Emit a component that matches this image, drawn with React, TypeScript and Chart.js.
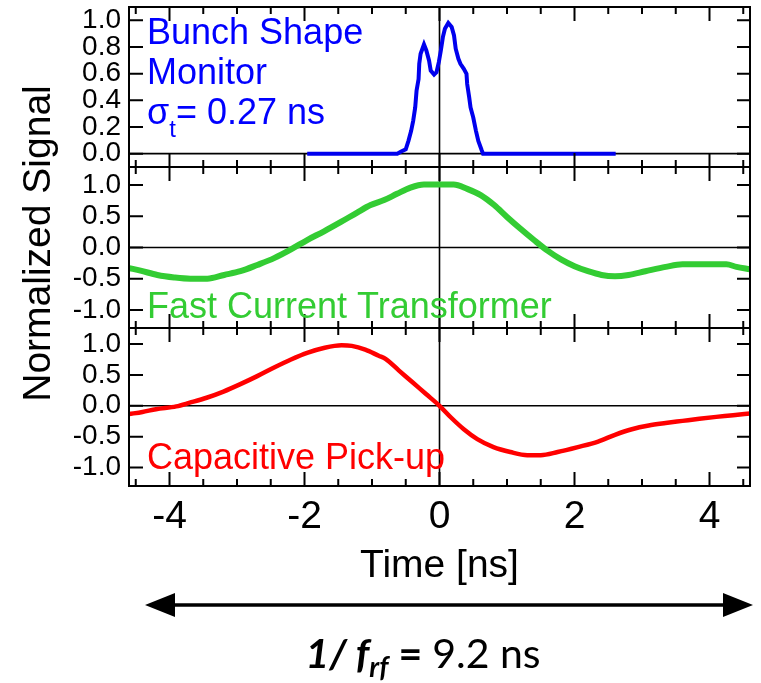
import React, { useEffect, useRef } from 'react';
import { Chart, registerables } from 'chart.js';

Chart.register(...registerables);

const FONT = '"Liberation Sans", Arial, sans-serif';
const FORMULA_FONT = 'Lato, "Open Sans", sans-serif';

// x axis (time, ns)
const X_MIN = -4.6;
const X_MAX = 4.6;
const X_TICKS = [-4, -2, 0, 2, 4];
const X_MINOR_TICKS = [-4.5, -4, -3.5, -3, -2.5, -2, -1.5, -1, -0.5, 0, 0.5, 1, 1.5, 2, 2.5, 3, 3.5, 4, 4.5];

// y tick values
const TOP_Y_TICKS = [0, 0.2, 0.4, 0.6, 0.8, 1.0];
const SIG_Y_TICKS = [-1, -0.5, 0, 0.5, 1];

// Bunch Shape Monitor (blue)
const BSM_T = [-1.96, -0.625, -0.575, -0.5, -0.46, -0.42, -0.39, -0.36, -0.34, -0.31, -0.3, -0.28, -0.23, -0.195, -0.155, -0.13, -0.08, -0.045, -0.01, 0.02, 0.05, 0.08, 0.13, 0.18, 0.215, 0.24, 0.28, 0.31, 0.36, 0.4, 0.41, 0.44, 0.46, 0.5, 0.54, 0.575, 0.625, 0.645, 2.61];
const BSM_V = [0, 0, 0.015, 0.033, 0.096, 0.171, 0.246, 0.347, 0.472, 0.56, 0.674, 0.749, 0.819, 0.774, 0.699, 0.623, 0.593, 0.61, 0.686, 0.774, 0.874, 0.937, 0.98, 0.95, 0.887, 0.787, 0.711, 0.674, 0.636, 0.598, 0.523, 0.422, 0.347, 0.271, 0.171, 0.096, 0.026, 0, 0];

// Fast Current Transformer (green)
const FCT_T = [-4.6, -4.43, -4.18, -3.93, -3.69, -3.44, -3.19, -2.95, -2.7, -2.45, -2.2, -1.96, -1.71, -1.46, -1.22, -1.02, -0.82, -0.63, -0.43, -0.23, 0, 0.21, 0.41, 0.61, 0.81, 1.0, 1.2, 1.4, 1.6, 1.8, 2.0, 2.2, 2.4, 2.6, 2.8, 3.05, 3.35, 3.6, 3.85, 4.25, 4.4, 4.6];
const FCT_V = [-0.33, -0.37, -0.44, -0.48, -0.5, -0.5, -0.44, -0.38, -0.28, -0.17, -0.03, 0.12, 0.26, 0.41, 0.56, 0.68, 0.76, 0.86, 0.96, 1.01, 1.01, 1.01, 0.94, 0.84, 0.68, 0.49, 0.3, 0.12, -0.05, -0.19, -0.3, -0.38, -0.44, -0.46, -0.44, -0.38, -0.31, -0.27, -0.27, -0.27, -0.31, -0.35];

// Capacitive Pick-up (red)
const CPU_T = [-4.6, -4.4, -4.2, -3.9, -3.7, -3.45, -3.2, -2.95, -2.7, -2.45, -2.2, -1.95, -1.7, -1.45, -1.3, -1.1, -0.9, -0.8, -0.6, -0.4, -0.2, 0, 0.17, 0.36, 0.56, 0.8, 1.05, 1.3, 1.5, 1.75, 2.05, 2.35, 2.6, 2.85, 3.1, 3.35, 3.6, 3.85, 4.1, 4.35, 4.6];
const CPU_V = [-0.135, -0.1, -0.055, -0.01, 0.05, 0.13, 0.23, 0.35, 0.48, 0.62, 0.75, 0.86, 0.94, 0.98, 0.97, 0.91, 0.81, 0.76, 0.57, 0.38, 0.19, 0, -0.19, -0.38, -0.54, -0.67, -0.75, -0.8, -0.8, -0.75, -0.67, -0.58, -0.47, -0.38, -0.32, -0.28, -0.245, -0.21, -0.18, -0.155, -0.125];

const BLUE = '#0000ee';
const GREEN = '#33cc33';
const RED = '#ff0000';

const PANEL_IDS = ['yTop', 'yMid', 'yBot'];
const PANEL_TICKS: Record<string, number[]> = { yTop: TOP_Y_TICKS, yMid: SIG_Y_TICKS, yBot: SIG_Y_TICKS };

function toPoints(ts: number[], vs: number[]) {
  return ts.map((t, i) => ({ x: t, y: vs[i] }));
}

function yAxis(id: string, min: number, max: number, weight: number, stackWeight: number) {
  return {
    type: 'linear',
    position: 'left',
    stack: 'panels',
    stackWeight,
    weight,
    min,
    max,
    grid: { display: false, drawTicks: false },
    border: { display: false },
    afterBuildTicks: (s: any) => {
      s.ticks = PANEL_TICKS[id].map((value) => ({ value }));
    },
    afterFit: (s: any) => {
      s.width = 129;
      s.paddingTop = 0;
      s.paddingBottom = 0;
    },
    ticks: {
      font: { family: FONT, size: 28, lineHeight: 1 },
      color: '#000',
      padding: 8,
      autoSkip: false,
      callback: (v: any) => Number(v).toFixed(1),
    },
  };
}

function drawRich(ctx: CanvasRenderingContext2D, x: number, y: number, parts: any[], measureOnly = false) {
  let cx = x;
  for (const p of parts) {
    ctx.font = p.font;
    if (!measureOnly) {
      ctx.fillStyle = p.color || '#000';
      ctx.fillText(p.text, cx, y + (p.dy || 0));
    }
    cx += ctx.measureText(p.text).width;
  }
  return cx - x;
}

const panelPlugin = {
  id: 'panels',
  beforeDatasetsDraw(chart: any) {
    const { ctx, chartArea: ca, scales } = chart;
    ctx.save();
    ctx.strokeStyle = '#000';
    ctx.lineWidth = 1.6;
    ctx.beginPath();
    for (const id of PANEL_IDS) {
      const py = scales[id].getPixelForValue(0);
      ctx.moveTo(ca.left, py);
      ctx.lineTo(ca.right, py);
    }
    const px = scales.x.getPixelForValue(0);
    ctx.moveTo(px, ca.top);
    ctx.lineTo(px, ca.bottom);
    ctx.stroke();
    ctx.restore();
  },
  afterDatasetsDraw(chart: any) {
    const { ctx, chartArea: ca, scales } = chart;
    const xs = scales.x;
    ctx.save();
    ctx.strokeStyle = '#000';
    ctx.lineWidth = 2;
    ctx.strokeRect(ca.left, ca.top, ca.right - ca.left, ca.bottom - ca.top);
    const panels = PANEL_IDS.map((id) => scales[id]).sort((a: any, b: any) => a.top - b.top);
    const bounds = [ca.top, ...panels.slice(1).map((p: any) => p.top), ca.bottom];
    ctx.beginPath();
    bounds.forEach((b, i) => {
      if (i > 0 && i < bounds.length - 1) {
        ctx.moveTo(ca.left, b);
        ctx.lineTo(ca.right, b);
      }
      const up = i > 0;
      const down = i < bounds.length - 1;
      for (const v of X_MINOR_TICKS) {
        const major = X_TICKS.includes(v);
        const len = major ? 14 : 7;
        const px = xs.getPixelForValue(v);
        ctx.moveTo(px, up ? b - len : b);
        ctx.lineTo(px, down ? b + len : b);
      }
    });
    for (const id of PANEL_IDS) {
      const s = scales[id];
      for (const v of PANEL_TICKS[id]) {
        const py = s.getPixelForValue(v);
        ctx.moveTo(ca.left, py);
        ctx.lineTo(ca.left + 14, py);
        ctx.moveTo(ca.right, py);
        ctx.lineTo(ca.right - 13, py);
      }
    }
    ctx.stroke();
    ctx.restore();
  },
  afterDraw(chart: any) {
    const { ctx, chartArea: ca, scales } = chart;
    const top = scales.yTop;
    const mid = scales.yMid;
    const bot = scales.yBot;
    const tx = ca.left + 18;
    ctx.save();
    ctx.textBaseline = 'alphabetic';
    ctx.textAlign = 'left';
    const big = `36px ${FONT}`;
    // Bunch Shape Monitor annotation
    ctx.fillStyle = '#0000ff';
    ctx.font = big;
    ctx.fillText('Bunch Shape', tx, top.top + 37);
    ctx.fillText('Monitor', tx, top.top + 76.5);
    drawRich(ctx, tx, top.top + 117, [
      { text: 'σ', font: big, color: '#0000ff' },
      { text: 't', font: `24px ${FONT}`, color: '#0000ff', dy: 13 },
      { text: '= 0.27 ns', font: big, color: '#0000ff' },
    ]);
    ctx.fillStyle = GREEN;
    ctx.font = big;
    ctx.fillText('Fast Current Transformer', tx, mid.bottom - 10);
    ctx.fillStyle = RED;
    ctx.fillText('Capacitive Pick-up', tx, bot.bottom - 17);

    // y axis title
    ctx.save();
    ctx.translate(50, (ca.top + ca.bottom) / 2 - 3);
    ctx.rotate(-Math.PI / 2);
    ctx.fillStyle = '#000';
    ctx.font = `39px ${FONT}`;
    ctx.textAlign = 'center';
    ctx.fillText('Normalized Signal', 0, 0);
    ctx.restore();

    // x axis title
    ctx.fillStyle = '#000';
    ctx.font = `39px ${FONT}`;
    ctx.textAlign = 'center';
    ctx.fillText('Time [ns]', (ca.left + ca.right) / 2, ca.bottom + 91);

    // period arrow
    const ay = ca.bottom + 119;
    const ax0 = ca.left + 16;
    const ax1 = ca.right + 3;
    ctx.strokeStyle = '#000';
    ctx.lineWidth = 3.5;
    ctx.beginPath();
    ctx.moveTo(ax0 + 20, ay);
    ctx.lineTo(ax1 - 20, ay);
    ctx.stroke();
    ctx.fillStyle = '#000';
    ctx.beginPath();
    ctx.moveTo(ax0, ay);
    ctx.lineTo(ax0 + 30, ay - 12);
    ctx.lineTo(ax0 + 30, ay + 12);
    ctx.closePath();
    ctx.fill();
    ctx.beginPath();
    ctx.moveTo(ax1, ay);
    ctx.lineTo(ax1 - 30, ay - 12);
    ctx.lineTo(ax1 - 30, ay + 12);
    ctx.closePath();
    ctx.fill();

    // formula
    ctx.textAlign = 'left';
    const parts = [
      { text: '1/ ', font: `italic bold 41px ${FORMULA_FONT}` },
      { text: 'f', font: `italic bold 41px ${FORMULA_FONT}` },
      { text: 'rf', font: `italic bold 28px ${FORMULA_FONT}`, dy: 9 },
      { text: ' = ', font: `bold 41px ${FORMULA_FONT}` },
      { text: '9.2 ns', font: `41px ${FORMULA_FONT}` },
    ];
    const w = drawRich(ctx, 0, 0, parts, true);
    drawRich(ctx, 423 - w / 2, ca.bottom + 182, parts);
    ctx.restore();
  },
};

export default function App() {
  const ref = useRef<HTMLCanvasElement>(null);
  useEffect(() => {
    if (!ref.current) return;
    const chart = new Chart(ref.current, {
      type: 'line',
      data: {
        datasets: [
          {
            data: toPoints(BSM_T, BSM_V),
            yAxisID: 'yTop',
            borderColor: BLUE,
            borderWidth: 4,
            pointRadius: 0,
            tension: 0,
          },
          {
            data: toPoints(FCT_T, FCT_V),
            yAxisID: 'yMid',
            borderColor: GREEN,
            borderWidth: 6,
            pointRadius: 0,
            cubicInterpolationMode: 'monotone',
          },
          {
            data: toPoints(CPU_T, CPU_V),
            yAxisID: 'yBot',
            borderColor: RED,
            borderWidth: 4.5,
            pointRadius: 0,
            cubicInterpolationMode: 'monotone',
          },
        ],
      },
      options: {
        responsive: false,
        animation: false,
        layout: { padding: { top: 7, right: 11, left: 0, bottom: 0 } },
        plugins: { legend: { display: false }, tooltip: { enabled: false } },
        scales: {
          x: {
            type: 'linear',
            position: 'bottom',
            min: X_MIN,
            max: X_MAX,
            grid: { display: false, drawTicks: false },
            border: { display: false },
            afterBuildTicks: (s: any) => {
              s.ticks = X_TICKS.map((value) => ({ value }));
            },
            afterFit: (s: any) => {
              s.height = 197;
              s.paddingLeft = 0;
              s.paddingRight = 0;
            },
            ticks: {
              font: { family: FONT, size: 39 },
              color: '#000',
              padding: 8,
              maxRotation: 0,
              autoSkip: false,
              callback: (v: any) => String(v),
            },
          },
          yBot: yAxis('yBot', -1.3, 1.26, 1, 158),
          yMid: yAxis('yMid', -1.29, 1.29, 2, 161),
          yTop: yAxis('yTop', -0.1, 1.1, 3, 160),
        } as any,
      },
      plugins: [panelPlugin],
    } as any);
    return () => chart.destroy();
  }, []);
  return (
    <div style={{ position: 'absolute', left: 0, top: 0, width: 761, height: 683, background: '#fff' }}>
      <canvas ref={ref} width={761} height={683} style={{ display: 'block', width: 761, height: 683 }} />
    </div>
  );
}
